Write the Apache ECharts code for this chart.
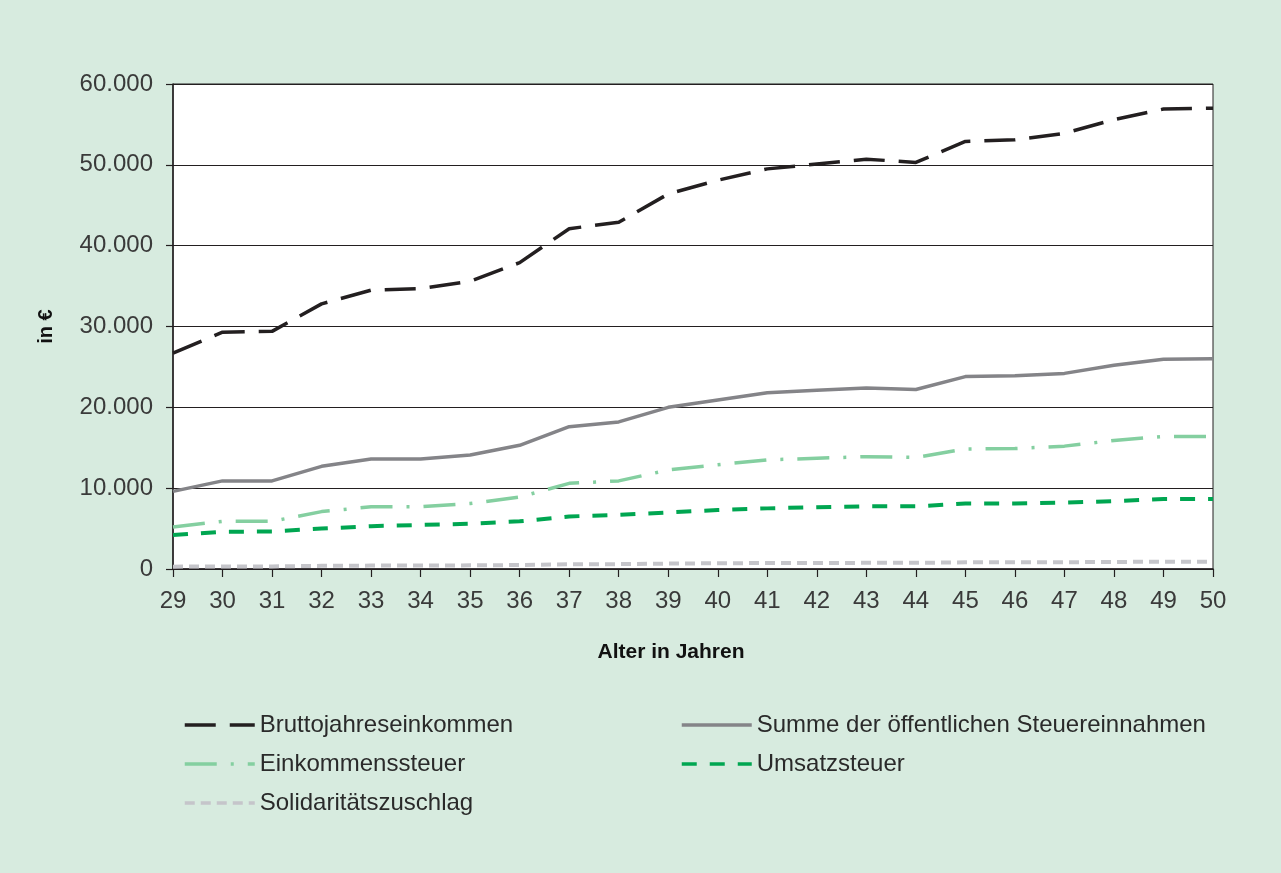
<!DOCTYPE html>
<html>
<head>
<meta charset="utf-8">
<script src="https://cdn.jsdelivr.net/npm/echarts@6/dist/echarts.min.js"></script>
<style>
  html, body { margin: 0; padding: 0; background: #d7ebdf; }
  #chart { width: 1281px; height: 873px; }
</style>
</head>
<body>
<div id="chart"></div>
<script>
// Alter in Jahren
const ages = ['29','30','31','32','33','34','35','36','37','38','39','40','41','42','43','44','45','46','47','48','49','50'];

// Beträge in Euro je Altersjahr
const bruttojahreseinkommen = [26700, 29300, 29400, 32800, 34500, 34700, 35600, 37900, 42100, 42900, 46400, 48100, 49500, 50100, 50700, 50300, 52900, 53100, 53900, 55600, 56900, 57000];
const summeSteuereinnahmen  = [9600, 10900, 10900, 12700, 13600, 13600, 14100, 15300, 17600, 18200, 20000, 20900, 21800, 22100, 22400, 22200, 23800, 23900, 24200, 25200, 25950, 26000];
const einkommenssteuer      = [5200, 5900, 5900, 7100, 7700, 7700, 8100, 8900, 10600, 10900, 12250, 12900, 13500, 13700, 13900, 13800, 14850, 14900, 15200, 15900, 16400, 16400];
const umsatzsteuer          = [4200, 4600, 4650, 5000, 5300, 5450, 5600, 5900, 6500, 6700, 7000, 7300, 7500, 7650, 7750, 7750, 8100, 8100, 8200, 8400, 8650, 8650];
const solidaritaetszuschlag = [290, 320, 320, 390, 420, 420, 450, 490, 580, 600, 670, 710, 740, 750, 760, 760, 820, 820, 840, 870, 900, 900];

// Y-Achsen-Bereich
const yMin = 0, yMax = 60000, yStep = 10000;

const FONT = 'Liberation Sans, Arial, sans-serif';
const TEXT = '#3a3a3a';

function formatDE(v) {
  return String(v).replace(/\B(?=(\d{3})+(?!\d))/g, '.');
}

const chart = echarts.init(document.getElementById('chart'), null, { renderer: 'canvas' });

function lineSeries(name, data, color, width, dash) {
  return {
    name: name,
    type: 'line',
    data: data,
    symbol: 'none',
    smooth: false,
    lineStyle: { color: color, width: width, type: dash, cap: 'butt', join: 'round' },
    itemStyle: { color: color },
    emphasis: { disabled: true }
  };
}

const legendBase = {
  top: 713, orient: 'vertical', padding: 0,
  itemWidth: 70, itemHeight: 14, itemGap: 15,
  itemStyle: { opacity: 0 },
  lineStyle: { width: 3.5 },
  textStyle: { fontFamily: FONT, fontSize: 24, color: '#2a2a2a' }
};

chart.setOption({
  backgroundColor: '#d7ebdf',
  animation: false,
  textStyle: { fontFamily: FONT },
  grid: {
    left: 173, right: 68, top: 84, bottom: 304,
    show: true, backgroundColor: '#ffffff', borderColor: '#231f20', borderWidth: 1
  },
  legend: [
    Object.assign({}, legendBase, {
      left: 183,
      data: ['Bruttojahreseinkommen', 'Einkommenssteuer', 'Solidaritätszuschlag']
    }),
    Object.assign({}, legendBase, {
      left: 680,
      data: ['Summe der öffentlichen Steuereinnahmen', 'Umsatzsteuer']
    })
  ],
  xAxis: {
    type: 'category',
    data: ages,
    boundaryGap: false,
    name: 'Alter in Jahren',
    nameLocation: 'middle',
    nameGap: 73,
    nameTextStyle: { fontFamily: FONT, fontSize: 21, fontWeight: 'bold', color: '#111', padding: [0, 44, 0, 0] },
    axisLine: { lineStyle: { color: '#231f20', width: 1.5 } },
    axisTick: { show: true, length: 8, lineStyle: { color: '#231f20', width: 1.2 } },
    axisLabel: { fontFamily: FONT, fontSize: 24, color: TEXT, margin: 20 },
    splitLine: { show: false }
  },
  yAxis: {
    type: 'value',
    min: yMin, max: yMax, interval: yStep,
    name: 'in €',
    nameLocation: 'middle',
    nameGap: 117,
    nameRotate: 90,
    nameTextStyle: { fontFamily: FONT, fontSize: 20, fontWeight: 'bold', color: '#111' },
    axisLine: { show: true, lineStyle: { color: '#231f20', width: 1.5 } },
    axisTick: { show: true, length: 7, lineStyle: { color: '#231f20', width: 1.2 } },
    axisLabel: { fontFamily: FONT, fontSize: 24, color: TEXT, margin: 20, formatter: formatDE },
    splitLine: { show: true, lineStyle: { color: '#231f20', width: 1 } }
  },
  series: [
    lineSeries('Bruttojahreseinkommen', bruttojahreseinkommen, '#231f20', 3.5, [31, 14]),
    lineSeries('Summe der öffentlichen Steuereinnahmen', summeSteuereinnahmen, '#848488', 3.5, 'solid'),
    lineSeries('Einkommenssteuer', einkommenssteuer, '#84cfa0', 3.5, [32, 14, 3, 14]),
    lineSeries('Umsatzsteuer', umsatzsteuer, '#00a651', 4, [15, 13]),
    lineSeries('Solidaritätszuschlag', solidaritaetszuschlag, '#c5c5ca', 4, [10, 6])
  ]
});
</script>
</body>
</html>
